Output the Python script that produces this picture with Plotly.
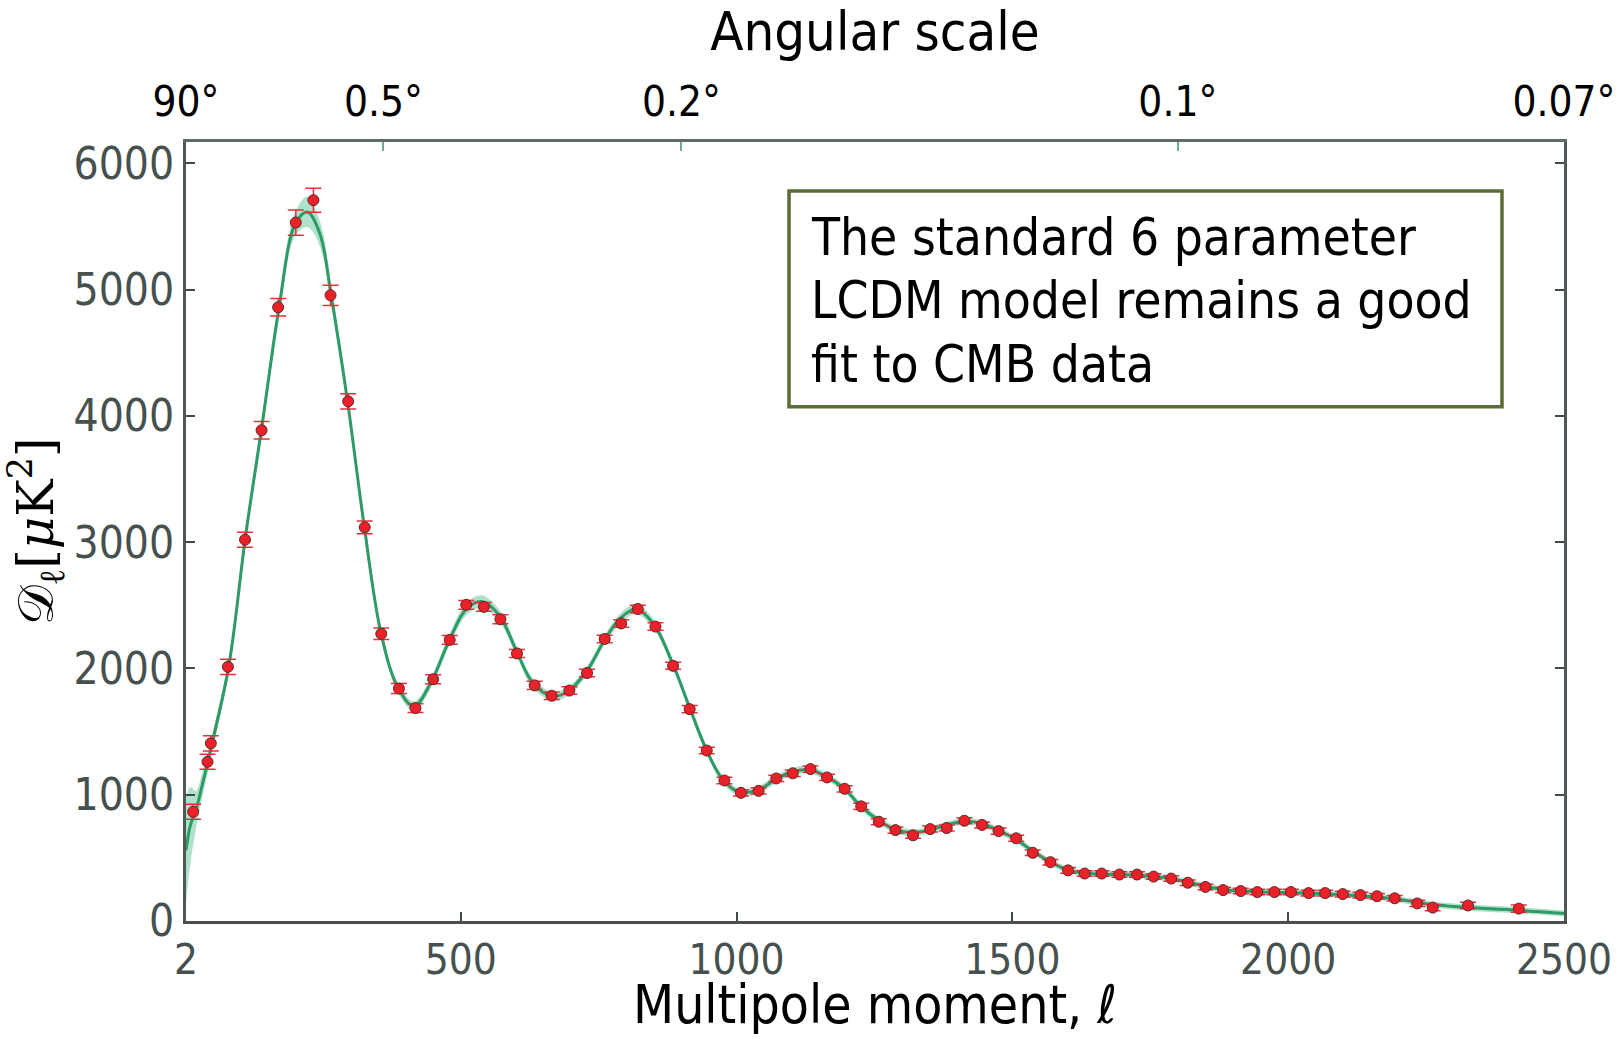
import plotly.graph_objects as go

# Binned TT power spectrum: multipole, band power D_ell [muK^2], 1-sigma error
ell = [15, 41, 47, 78, 109, 139, 169, 201, 233, 264, 296, 326, 356, 388, 418,
       450, 480, 510, 542, 572, 602, 634, 665, 697, 729, 761, 791, 821, 853, 885,
       915, 946, 978, 1008, 1040, 1072, 1102, 1134, 1164, 1196, 1226, 1258, 1288,
       1320, 1351, 1381, 1413, 1445, 1475, 1507, 1537, 1569, 1601, 1631, 1662,
       1694, 1726, 1756, 1788, 1818, 1850, 1882, 1914, 1944, 1975, 2005, 2037,
       2067, 2099, 2131, 2161, 2193, 2234, 2262, 2326, 2418]
dl = [865, 1261, 1407, 2013, 3020, 3887, 4861, 5532, 5709, 4956, 4116, 3118,
      2275, 1841, 1686, 1915, 2226, 2504, 2488, 2390, 2119, 1866, 1784, 1825,
      1964, 2234, 2357, 2471, 2332, 2021, 1678, 1350, 1113, 1015, 1031, 1129,
      1170, 1203, 1137, 1047, 908, 786, 720, 679, 728, 736, 794, 761, 712, 655,
      540, 466, 401, 376, 376, 368, 368, 352, 336, 303, 270, 245, 237, 229, 229,
      229, 221, 221, 213, 205, 196, 180, 139, 106, 123, 98]
dl_err = [60, 60, 60, 60, 60, 70, 70, 100, 95, 80, 60, 50, 45, 40, 35,
          35, 35, 35, 35, 35, 32, 32, 30, 30, 30, 30, 30, 30, 30, 28,
          28, 26, 25, 25, 25, 25, 25, 25, 25, 25, 24, 24, 24, 24, 24,
          24, 24, 24, 24, 24, 22, 22, 22, 22, 22, 22, 22, 22, 22, 22,
          22, 22, 22, 22, 22, 22, 22, 22, 22, 22, 22, 22, 25, 25, 25, 28]

# Best-fit six-parameter LCDM model and its uncertainty band half-width
model_ell = [2, 10, 20, 30, 50, 80, 110, 140, 170, 200, 222, 245, 265, 295,
             325, 355, 385, 415, 445, 480, 510, 538, 570, 600, 630, 665, 695,
             730, 760, 790, 818, 850, 885, 915, 945, 975, 1005, 1040, 1070,
             1100, 1130, 1160, 1195, 1225, 1260, 1290, 1320, 1350, 1380, 1415,
             1445, 1475, 1505, 1540, 1570, 1600, 1630, 1660, 1695, 1725, 1755,
             1790, 1820, 1850, 1880, 1915, 1945, 1975, 2005, 2040, 2070, 2100,
             2130, 2160, 2195, 2230, 2260, 2300, 2350, 2400, 2450, 2500]
model_dl = [560, 760, 880, 1050, 1420, 2030, 3050, 3930, 4840, 5520, 5616, 5440,
            4960, 4110, 3130, 2290, 1860, 1700, 1880, 2230, 2470, 2530, 2420,
            2150, 1890, 1780, 1820, 1990, 2220, 2400, 2470, 2350, 2030, 1690,
            1360, 1120, 1020, 1040, 1120, 1180, 1200, 1150, 1050, 910, 790, 720,
            700, 720, 760, 790, 770, 715, 650, 545, 465, 405, 380, 372, 368, 365,
            352, 335, 305, 275, 250, 238, 230, 227, 225, 220, 215, 208, 200, 190,
            175, 150, 130, 115, 100, 90, 75, 60]
model_hw = [420, 300, 150, 100, 70, 60, 60, 65, 75, 95, 120, 100, 80, 55, 45,
            40, 38, 38, 40, 45, 50, 50, 45, 40, 38, 36, 36, 36, 38, 40, 40, 38,
            36, 34, 32, 30, 30, 30, 30, 30, 30, 30, 28, 28, 28, 28, 26, 26, 26,
            26, 26, 26, 26, 25, 25, 25, 24, 24, 24, 24, 24, 24, 24, 24, 24, 24,
            24, 24, 24, 24, 24, 24, 24, 24, 24, 24, 24, 24, 24, 24, 24, 24]

# Angular scale axis: degrees and the multipole where each label sits
angle_labels = ["90°", "0.5°", "0.2°", "0.1°", "0.07°"]
angle_ell = [2, 360, 900, 1800, 2500]

x_ticks = [2, 500, 1000, 1500, 2000, 2500]
y_ticks = [0, 1000, 2000, 3000, 4000, 5000, 6000]

note_lines = ["The standard 6 parameter", "LCDM model remains a good", "fit to CMB data"]

NARROW = "DejaVu Sans Condensed, Liberation Sans Narrow, sans-serif"
TICK_GREY = "#46504e"

band_upper = [d + h for d, h in zip(model_dl, model_hw)]
band_lower = [d - h for d, h in zip(model_dl, model_hw)]

fig = go.Figure()

fig.add_trace(go.Scatter(
    x=model_ell, y=band_upper, mode="lines", line=dict(width=0, shape="spline"),
    hoverinfo="skip", showlegend=False))
fig.add_trace(go.Scatter(
    x=model_ell, y=band_lower, mode="lines", line=dict(width=0, shape="spline"),
    fill="tonexty", fillcolor="rgba(110,200,160,0.55)",
    hoverinfo="skip", showlegend=False))
fig.add_trace(go.Scatter(
    x=model_ell, y=model_dl, mode="lines",
    line=dict(color="#2e9a66", width=3, shape="spline"),
    showlegend=False))
fig.add_trace(go.Scatter(
    x=ell, y=dl, mode="markers",
    marker=dict(size=11, color="#ec2028", line=dict(color="#5a2a2a", width=1)),
    error_y=dict(type="data", array=dl_err, color="#e8303a", thickness=1.5, width=8),
    showlegend=False))

# invisible trace to activate the top axis
fig.add_trace(go.Scatter(x=[2, 2500], y=[None, None], xaxis="x2", mode="lines",
                         showlegend=False, hoverinfo="skip"))

fig.update_layout(
    width=1621, height=1039,
    margin=dict(l=186, r=57, t=142, b=118),
    paper_bgcolor="white", plot_bgcolor="white",
    xaxis=dict(
        range=[2, 2500], tickvals=x_ticks, ticktext=[str(v) for v in x_ticks],
        ticks="inside", ticklen=9, tickwidth=1.5, tickcolor="#3e4a48",
        showline=True, linewidth=3, linecolor="#4a4f4e", mirror=False,
        showgrid=False, zeroline=False, automargin=False,
        tickfont=dict(family=NARROW, size=42, color=TICK_GREY),
    ),
    xaxis2=dict(
        overlaying="x", side="top", range=[2, 2500],
        tickvals=angle_ell, ticktext=angle_labels,
        ticks="inside", ticklen=9, tickwidth=1.5, tickcolor="#6fa99a",
        showline=True, linewidth=2.5, linecolor="#5f6b68",
        showgrid=False, zeroline=False, automargin=False,
        ticklabelstandoff=6,
        tickfont=dict(family=NARROW, size=42, color="#000000"),
        title=dict(text="Angular scale", standoff=12,
                   font=dict(family=NARROW, size=54, color="#000000")),
    ),
    yaxis=dict(
        range=[0, 6170], tickvals=y_ticks, ticktext=[str(v) for v in y_ticks],
        ticks="inside", ticklen=9, tickwidth=1.5, tickcolor="#3e4a48",
        showline=True, linewidth=3, linecolor="#4f5857", mirror="ticks",
        showgrid=False, zeroline=False, automargin=False,
        tickfont=dict(family=NARROW, size=44, color=TICK_GREY),
        title=dict(text="𝒟<sub>ℓ</sub>[<i>μ</i>K<sup>2</sup>]", standoff=8,
                   font=dict(family="DejaVu Serif, serif", size=50, color="#000000")),
    ),
)

# Bottom axis title, pinned to the lower edge of the canvas
fig.add_annotation(xref="paper", yref="paper", x=0.5, y=-0.149,
                   xanchor="center", yanchor="bottom", showarrow=False,
                   text="Multipole moment, <i>ℓ</i>",
                   font=dict(family=NARROW, size=53, color="#000000"))

# Boxed note in the upper right of the plot
fig.add_shape(type="rect", xref="paper", yref="paper",
              x0=0.4376, x1=0.955, y0=0.66, y1=0.937,
              line=dict(color="#5b6b32", width=3.5), fillcolor="white", layer="above")
line_y = [0.877, 0.796, 0.715]
for txt, yy in zip(note_lines, line_y):
    fig.add_annotation(xref="paper", yref="paper", x=0.4521, y=yy,
                       xanchor="left", yanchor="middle", showarrow=False,
                       text=txt, font=dict(family=NARROW, size=51, color="#000000"))

fig.write_html("out.html")
